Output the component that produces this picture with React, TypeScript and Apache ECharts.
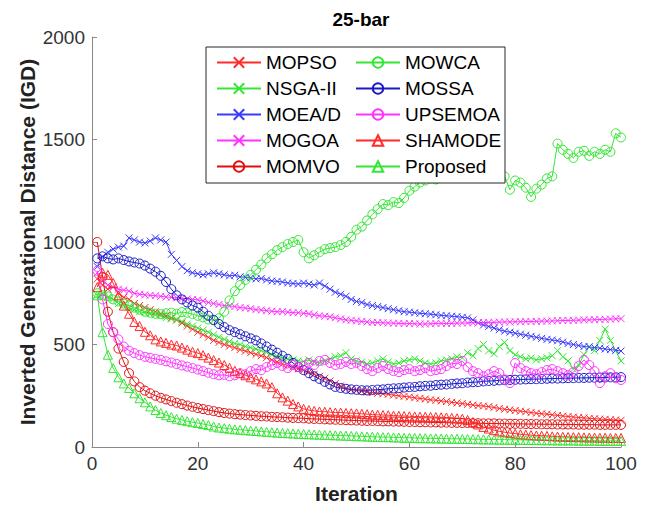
import React, { useEffect, useRef } from "react";
import * as echarts from "echarts";

// IGD per iteration (1..100) for each algorithm on the 25-bar truss problem
const MOPSO = [
  820, 790, 770, 780, 750, 730, 720, 700, 690, 680,
  670, 660, 650, 640, 630, 620, 605, 590, 575, 560,
  548, 535, 520, 510, 500, 492, 485, 475, 468, 460,
  452, 445, 436, 425, 415, 405, 398, 390, 382, 375,
  365, 355, 345, 335, 322, 310, 298, 285, 280, 275,
  272, 268, 266, 262, 260, 257, 253, 250, 247, 244,
  240, 237, 234, 230, 228, 225, 222, 218, 215, 212,
  208, 205, 202, 200, 197, 193, 188, 184, 181, 178,
  175, 172, 168, 165, 162, 160, 157, 154, 151, 149,
  146, 144, 142, 140, 138, 136, 135, 133, 132, 130,
];
const NSGA2 = [
  740, 750, 730, 720, 700, 690, 680, 670, 660, 655,
  650, 645, 640, 630, 625, 620, 612, 600, 590, 580,
  570, 560, 548, 535, 525, 515, 505, 500, 490, 485,
  478, 470, 462, 450, 442, 435, 430, 425, 420, 418,
  425, 415, 410, 420, 430, 440, 445, 460, 430, 420,
  415, 405, 410, 420, 430, 415, 405, 410, 420, 425,
  430, 420, 410, 405, 410, 420, 425, 430, 440, 435,
  460, 445, 480, 500, 470, 455, 490, 510, 470, 450,
  440, 430, 435, 425, 430, 435, 445, 470, 440, 420,
  380, 400, 450, 490, 470, 520, 575, 520, 470, 420,
];
const MOEAD = [
  880, 930, 950, 965, 975, 980, 1020, 1010, 1000, 995,
  1005, 1020, 1010, 1000, 940, 910, 880, 860, 850, 845,
  840, 845, 850, 845, 840, 835, 838, 830, 828, 825,
  820, 822, 815, 810, 808, 805, 800, 798, 795, 800,
  795, 790, 800, 785, 770, 755, 745, 735, 720, 710,
  705, 695, 690, 685, 680, 675, 670, 665, 660, 658,
  655, 652, 650, 648, 645, 642, 640, 638, 636, 633,
  630, 620, 605, 595, 588, 580, 572, 565, 560, 555,
  550, 545, 540, 535, 530, 525, 522, 518, 512, 505,
  500, 495, 490, 488, 485, 482, 478, 475, 472, 468,
];
const MOGOA = [
  850, 810, 790, 780, 770, 765, 760, 750, 745, 742,
  740, 738, 735, 732, 730, 728, 725, 722, 720, 718,
  712, 705, 700, 695, 690, 688, 685, 680, 678, 675,
  670, 668, 665, 662, 660, 660, 658, 655, 655, 652,
  650, 645, 640, 638, 635, 630, 625, 620, 618, 615,
  612, 610, 608, 607, 606, 605, 604, 603, 602, 602,
  601, 600, 600, 601, 603, 603, 602, 603, 604, 605,
  605, 606, 606, 607, 608, 608, 609, 610, 610, 611,
  611, 612, 612, 613, 614, 614, 615, 616, 617, 617,
  618, 619, 620, 620, 621, 622, 623, 624, 625, 626,
];
const MOMVO = [
  1000, 830, 660, 560, 480, 415, 360, 320, 292, 275,
  262, 250, 240, 232, 224, 216, 209, 202, 196, 190,
  185, 180, 175, 170, 166, 163, 160, 158, 156, 154,
  152, 150, 149, 147, 146, 145, 143, 142, 141, 140,
  138, 137, 136, 135, 134, 133, 132, 131, 130, 129,
  128, 127, 127, 126, 125, 125, 124, 124, 123, 122,
  122, 121, 121, 120, 120, 119, 119, 118, 118, 117,
  117, 116, 116, 115, 115, 115, 114, 114, 113, 113,
  113, 112, 112, 112, 111, 111, 111, 110, 110, 110,
  110, 109, 109, 109, 109, 108, 108, 108, 108, 108,
];
const MOWCA = [
  750, 740, 735, 720, 710, 700, 690, 680, 670, 660,
  655, 650, 648, 652, 655, 650, 658, 655, 648, 640,
  632, 622, 618, 628, 660, 715, 760, 790, 815, 840,
  865, 890, 920, 940, 960, 975, 990, 1000, 1010, 950,
  920, 935, 950, 965, 970, 975, 985, 1000, 1025, 1060,
  1075, 1105, 1135, 1160, 1185, 1180, 1195, 1190, 1215, 1250,
  1270, 1290, 1300, 1310, 1305, 1320, 1330, 1325, 1340, 1330,
  1345, 1355, 1350, 1340, 1360, 1345, 1330, 1320, 1255, 1300,
  1290, 1265, 1220, 1260, 1280, 1310, 1320, 1480, 1450, 1430,
  1410, 1440, 1445, 1420, 1440, 1430, 1450, 1440, 1530, 1510,
];
const MOSSA = [
  920, 930, 920, 915, 920, 912, 905, 900, 895, 885,
  870, 855, 835, 805, 770, 740, 720, 705, 690, 680,
  660, 640, 620, 600, 585, 570, 560, 550, 540, 530,
  520, 505, 490, 475, 460, 445, 430, 410, 390, 375,
  360, 345, 332, 318, 305, 293, 288, 284, 281, 279,
  277, 276, 278, 280, 281, 284, 286, 287, 290, 292,
  293, 296, 298, 299, 302, 304, 305, 308, 310, 311,
  314, 316, 317, 320, 322, 323, 325, 326, 327, 328,
  329, 330, 331, 331, 332, 333, 334, 334, 335, 336,
  336, 337, 337, 338, 338, 339, 339, 340, 340, 341,
];
const UPSEMOA = [
  860, 720, 600, 560, 525, 490, 470, 458, 448, 440,
  435, 430, 425, 418, 412, 405, 398, 392, 385, 378,
  370, 362, 355, 350, 352, 345, 350, 360, 355, 370,
  380, 375, 390, 400, 410, 395, 385, 400, 390, 395,
  410, 400, 420, 425, 410, 400, 405, 415, 405, 410,
  395, 380, 370, 385, 395, 380, 370, 365, 375, 380,
  370, 375, 385, 370, 375, 380, 395, 410, 405, 420,
  390, 370, 360, 345, 355, 370, 360, 330, 312, 410,
  385, 370, 360, 355, 365, 375, 380, 370, 360, 350,
  365, 395, 425, 400, 370, 312, 345, 360, 335, 327,
];
const SHAMODE = [
  780, 850, 840, 800, 740, 690, 650, 610, 590, 562,
  545, 525, 515, 508, 500, 495, 485, 475, 465, 458,
  448, 436, 424, 412, 400, 386, 372, 360, 350, 340,
  330, 320, 310, 292, 262, 242, 226, 210, 198, 186,
  180, 176, 173, 172, 170, 168, 168, 166, 165, 164,
  162, 160, 158, 157, 156, 155, 153, 152, 151, 150,
  149, 148, 148, 147, 146, 145, 144, 142, 140, 138,
  132, 122, 110, 98, 90, 82, 76, 72, 68, 65,
  62, 60, 58, 56, 55, 54, 52, 51, 50, 49,
  48, 48, 47, 46, 46, 45, 45, 44, 44, 44,
];
const PROPOSED = [
  740, 560, 450, 385, 340, 310, 288, 262, 238, 218,
  198, 180, 166, 155, 146, 138, 132, 126, 121, 117,
  112, 107, 100, 95, 92, 89, 86, 84, 82, 80,
  78, 76, 74, 72, 70, 68, 67, 66, 64, 63,
  62, 61, 60, 59, 58, 57, 56, 55, 54, 53,
  52, 51, 50, 49, 48, 48, 47, 46, 45, 45,
  44, 43, 43, 42, 42, 41, 41, 40, 40, 39,
  39, 38, 38, 37, 37, 36, 36, 36, 35, 35,
  35, 34, 34, 34, 33, 33, 33, 32, 32, 32,
  32, 31, 31, 31, 31, 30, 30, 30, 30, 30,
];

const xTicks = [0, 20, 40, 60, 80, 100];
const yTicks = [0, 500, 1000, 1500, 2000];

const FONT = "'Liberation Sans', Arial, Helvetica, sans-serif";
const CROSS = "path://M0,0L10,10M10,0L0,10";

const RED = "#ff2a2a";
const DARK_RED = "#e01010";
const GREEN = "#35e635";
const BLUE = "#3a3aff";
const NAVY = "#1a1ac8";
const MAGENTA = "#ff33ff";
const AXIS_GRAY = "#8a8a8a";

type Spec = { name: string; values: number[]; color: string; symbol: string; size: number };

const specs: Spec[] = [
  { name: "MOPSO", values: MOPSO, color: RED, symbol: CROSS, size: 7 },
  { name: "NSGA-II", values: NSGA2, color: GREEN, symbol: CROSS, size: 7 },
  { name: "MOEA/D", values: MOEAD, color: BLUE, symbol: CROSS, size: 7 },
  { name: "MOGOA", values: MOGOA, color: MAGENTA, symbol: CROSS, size: 7 },
  { name: "MOMVO", values: MOMVO, color: DARK_RED, symbol: "circle", size: 9 },
  { name: "MOWCA", values: MOWCA, color: GREEN, symbol: "circle", size: 9 },
  { name: "MOSSA", values: MOSSA, color: NAVY, symbol: "circle", size: 9 },
  { name: "UPSEMOA", values: UPSEMOA, color: MAGENTA, symbol: "circle", size: 9 },
  { name: "SHAMODE", values: SHAMODE, color: RED, symbol: "triangle", size: 9 },
  { name: "Proposed", values: PROPOSED, color: GREEN, symbol: "triangle", size: 9 },
];

function buildSeries(s: Spec) {
  return {
    name: s.name,
    type: "line",
    data: s.values.map((v, i) => [i + 1, v]),
    symbol: s.symbol,
    symbolSize: s.size,
    showSymbol: true,
    showAllSymbol: true,
    lineStyle: { color: s.color, width: 1 },
    itemStyle: { color: "none", borderColor: s.color, borderWidth: 1 },
    emphasis: { disabled: true },
    z: 2,
  };
}

const legendCommon = {
  orient: "vertical",
  top: 48,
  itemWidth: 44,
  itemHeight: 13,
  itemGap: 7,
  selectedMode: false,
  textStyle: { fontFamily: FONT, fontSize: 19, color: "#000", padding: [0, 0, 0, 0] },
  z: 10,
};

const axisName = { fontFamily: FONT, fontSize: 21, fontWeight: "bold", color: "#222" };
const tickLabel = { fontFamily: FONT, fontSize: 19, color: "#333", margin: 7, formatter: (v: number) => String(v) };

export default function App() {
  const ref = useRef<HTMLDivElement>(null);

  useEffect(() => {
    if (!ref.current) return;
    const chart = echarts.init(ref.current, undefined, { renderer: "svg" });
    chart.setOption({
      animation: false,
      backgroundColor: "#fff",
      textStyle: { fontFamily: FONT },
      title: {
        text: "25-bar",
        left: 356,
        top: 5,
        textAlign: "center",
        textStyle: { fontFamily: FONT, fontSize: 19, fontWeight: "bold", color: "#000" },
      },
      grid: { left: 92, right: 25, top: 37, bottom: 63 },
      xAxis: {
        type: "value",
        min: xTicks[0],
        max: xTicks[xTicks.length - 1],
        interval: xTicks[1] - xTicks[0],
        name: "Iteration",
        nameLocation: "middle",
        nameGap: 36,
        nameMoveOverlap: false,
        nameTextStyle: axisName,
        axisLine: { onZero: false, lineStyle: { color: AXIS_GRAY, width: 1 } },
        axisTick: { inside: true, length: 5, lineStyle: { color: AXIS_GRAY } },
        axisLabel: tickLabel,
        splitLine: { show: false },
      },
      yAxis: {
        type: "value",
        min: yTicks[0],
        max: yTicks[yTicks.length - 1],
        interval: yTicks[1] - yTicks[0],
        name: "Inverted Generational Distance (IGD)",
        nameLocation: "middle",
        nameGap: 54,
        nameMoveOverlap: false,
        nameTextStyle: axisName,
        axisLine: { show: true, lineStyle: { color: AXIS_GRAY, width: 1 } },
        axisTick: { show: true, inside: true, length: 5, lineStyle: { color: AXIS_GRAY } },
        axisLabel: tickLabel,
        splitLine: { show: false },
      },
      legend: [
        { ...legendCommon, left: 211, data: specs.slice(0, 5).map((s) => s.name) },
        { ...legendCommon, left: 350, data: specs.slice(5).map((s) => s.name) },
      ],
      graphic: [
        {
          type: "rect",
          z: 9,
          shape: { x: 206, y: 47, width: 299, height: 136 },
          style: { fill: "#fff", stroke: "#262626", lineWidth: 1 },
        },
      ],
      series: specs.map(buildSeries),
    });
    return () => chart.dispose();
  }, []);

  return (
    <div
      ref={ref}
      style={{ position: "fixed", left: 0, top: 0, width: 646, height: 510 }}
    />
  );
}
